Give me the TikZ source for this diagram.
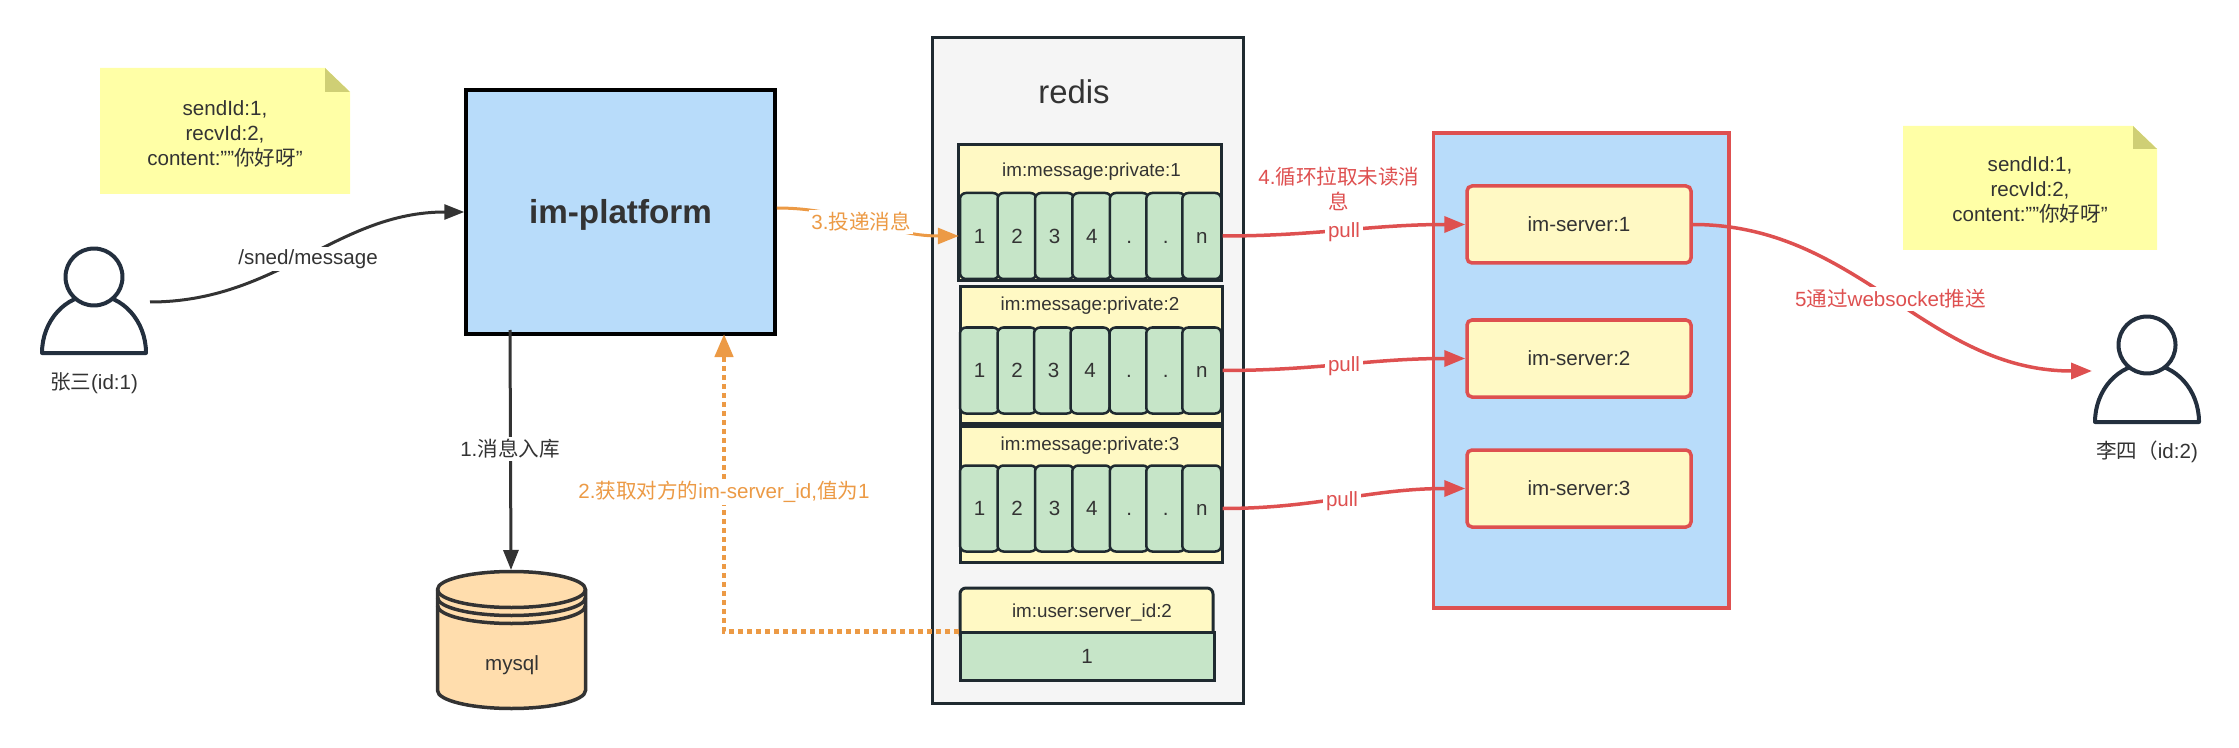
\documentclass[tikz,border=0pt]{standalone}
\usepackage{fontspec}
\setmainfont{Liberation Sans}
\newfontfamily\cjk{Noto Sans CJK SC}
\usetikzlibrary{arrows.meta}
\definecolor{inkdark}{HTML}{333333}
\definecolor{framedark}{HTML}{1F2A30}
\definecolor{personblue}{HTML}{232F3E}
\definecolor{paleblue}{HTML}{B8DCFA}
\definecolor{paleyellow}{HTML}{FFF9C4}
\definecolor{palegreen}{HTML}{C6E5C8}
\definecolor{notecolor}{HTML}{FFFFA6}
\definecolor{foldcolor}{HTML}{CFCF75}
\definecolor{dbcolor}{HTML}{FFDDAD}
\definecolor{orangeline}{HTML}{EC9A45}
\definecolor{redline}{HTML}{DE5050}
\tikzset{
  txt/.style={font=\fontsize{11.7}{14.2}\selectfont,text=inkdark,align=center,inner sep=0pt},
  keytxt/.style={txt,font=\fontsize{10.7}{14}\selectfont},
  edgetxt/.style={txt,fill=white,inner sep=1.5pt},
  cellbox/.style={txt,draw=framedark,fill=palegreen,line width=0.05cm,rounded corners=0.12cm,minimum width=0.78cm,minimum height=1.72cm,text height=0.29cm,text depth=0cm},
  rowbox/.style={draw=framedark,fill=paleyellow,line width=0.06cm,minimum width=5.25cm,minimum height=2.72cm},
  serverbox/.style={txt,draw=redline,fill=paleyellow,line width=0.07cm,rounded corners=0.1cm,minimum width=4.48cm,minimum height=1.54cm},
  notepaper/.style={fill=notecolor},
  notefold/.style={fill=foldcolor},
  personline/.style={draw=personblue,fill=white,line width=0.08cm,line join=round},
  personhead/.style={personline,circle,inner sep=0pt,minimum size=1.14cm},
  dbline/.style={draw=inkdark,line width=0.07cm},
  darkarrow/.style={draw=inkdark,line width=0.06cm,-{Triangle[length=0.4cm,width=0.3cm]}},
  orangearrow/.style={draw=orangeline,line width=0.06cm,-{Triangle[length=0.42cm,width=0.32cm]}},
  dottedarrow/.style={draw=orangeline,line width=0.09cm,dash pattern=on 0.09cm off 0.09cm,-{Triangle[length=0.46cm,width=0.36cm]}},
  redarrow/.style={draw=redline,line width=0.07cm,-{Triangle[length=0.42cm,width=0.32cm]}},
}
\begin{document}
\begin{tikzpicture}[y=-1cm]
\useasboundingbox (0,0) rectangle (44.78,14.96);
\fill[notepaper] (2.0,1.36) -- (6.5,1.36) -- (7.0,1.84) -- (7.0,3.88) -- (2.0,3.88) -- cycle;
\fill[notefold] (6.5,1.36) -- (7.0,1.84) -- (6.5,1.84) -- cycle;
\node[txt] (notea) at (4.5,2.67) {sendId:1,\\recvId:2,\\content:""{\cjk 你好呀}"};
\draw[personline] (0.84,7.06) -- (2.92,7.06) arc[start angle=0,end angle=180,x radius=1.04cm,y radius=1.16cm] -- cycle;
\node[personhead] (zhangsan) at (1.88,5.54) {};
\node[txt] (zhangsantxt) at (1.88,7.66) {{\cjk 张三}(id:1)};
\coordinate (sendstart) at (3.0,6.04);
\node[txt,draw=black,fill=paleblue,line width=0.07cm,minimum width=6.18cm,minimum height=4.88cm,font=\fontsize{18.9}{22}\selectfont\bfseries,text height=0.6cm,text depth=0.14cm] (platform) at (12.41,4.24) {im-platform};
\filldraw[dbline,fill=dbcolor] (8.75,11.79) arc[start angle=180,end angle=0,x radius=1.48cm,y radius=0.36cm] -- (11.71,13.81) arc[start angle=0,end angle=-180,x radius=1.48cm,y radius=0.36cm] -- cycle;
\draw[dbline] (8.75,11.79) arc[start angle=180,end angle=360,x radius=1.48cm,y radius=0.36cm];
\draw[dbline] (8.75,11.95) arc[start angle=180,end angle=360,x radius=1.48cm,y radius=0.36cm];
\draw[dbline] (8.75,12.11) arc[start angle=180,end angle=360,x radius=1.48cm,y radius=0.36cm];
\node[txt] (mysql) at (10.24,13.3) {mysql};
\coordinate (mysqltop) at (10.22,11.4);
\coordinate (dbstart) at (10.2,6.6);
\coordinate (idtip) at (14.48,6.68);
\node[draw=framedark,fill=black!4,line width=0.06cm,minimum width=6.22cm,minimum height=13.32cm] (redis) at (21.75,7.41) {};
\node[txt,font=\fontsize{18.7}{22}\selectfont] (redistxt) at (21.48,1.84) {redis};
\node[rowbox] (rowa) at (21.8,4.26) {};
\node[keytxt] (rowatxt) at (21.83,3.44) {im:message:private:1};
\node[cellbox] (aa) at (19.59,4.72) {1};
\node[cellbox] (ab) at (20.34,4.72) {2};
\node[cellbox] (ac) at (21.09,4.72) {3};
\node[cellbox] (ad) at (21.835,4.72) {4};
\node[cellbox] (ae) at (22.585,4.72) {.};
\node[cellbox] (af) at (23.315,4.72) {.};
\node[cellbox] (ag) at (24.035,4.72) {n};
\node[rowbox] (rowb) at (21.825,7.1) {};
\node[keytxt] (rowbtxt) at (21.8,6.11) {im:message:private:2};
\node[cellbox] (ba) at (19.59,7.41) {1};
\node[cellbox] (bb) at (20.34,7.41) {2};
\node[cellbox] (bc) at (21.07,7.41) {3};
\node[cellbox] (bd) at (21.8,7.41) {4};
\node[cellbox] (be) at (22.58,7.41) {.};
\node[cellbox] (bf) at (23.315,7.41) {.};
\node[cellbox] (bg) at (24.035,7.41) {n};
\node[rowbox] (rowc) at (21.825,9.894) {};
\node[keytxt] (rowctxt) at (21.8,8.92) {im:message:private:3};
\node[cellbox] (ca) at (19.59,10.17) {1};
\node[cellbox] (cb) at (20.34,10.17) {2};
\node[cellbox] (cc) at (21.09,10.17) {3};
\node[cellbox] (cd) at (21.835,10.17) {4};
\node[cellbox] (ce) at (22.585,10.17) {.};
\node[cellbox] (cf) at (23.315,10.17) {.};
\node[cellbox] (cg) at (24.035,10.17) {n};
\node[draw=framedark,fill=paleyellow,line width=0.06cm,rounded corners=0.12cm,minimum width=5.06cm,minimum height=1.04cm] (userkey) at (21.73,12.28) {};
\node[keytxt] (userkeytxt) at (21.84,12.26) {im:user:server\_id:2};
\node[txt,draw=framedark,fill=palegreen,line width=0.06cm,minimum width=5.08cm,minimum height=0.946cm] (userval) at (21.74,13.128) {1};
\node[draw=redline,fill=paleblue,line width=0.07cm,minimum width=5.91cm,minimum height=9.5cm] (cluster) at (31.625,7.41) {};
\node[serverbox] (servera) at (31.58,4.49) {im-server:1};
\node[serverbox] (serverb) at (31.58,7.17) {im-server:2};
\node[serverbox] (serverc) at (31.58,9.77) {im-server:3};
\fill[notepaper] (38.06,2.52) -- (42.66,2.52) -- (43.14,2.98) -- (43.14,5.0) -- (38.06,5.0) -- cycle;
\fill[notefold] (42.66,2.52) -- (43.14,2.98) -- (42.66,2.98) -- cycle;
\node[txt] (noteb) at (40.6,3.79) {sendId:1,\\recvId:2,\\content:""{\cjk 你好呀}"};
\draw[personline] (41.9,8.44) -- (43.98,8.44) arc[start angle=0,end angle=180,x radius=1.04cm,y radius=1.16cm] -- cycle;
\node[personhead] (lisi) at (42.94,6.9) {};
\node[txt] (lisitxt) at (42.94,9.04) {{\cjk 李四（}id:2)};
\coordinate (pushend) at (41.84,7.42);
\draw[darkarrow] (sendstart) to[out=0,in=180] (platform.west);
\draw[darkarrow] (dbstart) -- (mysqltop);
\draw[dottedarrow] (userval.north west) -| (idtip);
\draw[orangearrow] ([yshift=0.08cm]platform.east) to[out=0,in=180] (aa.west);
\draw[redarrow] (ag.east) to[out=0,in=180] (servera.west);
\draw[redarrow] (bg.east) to[out=0,in=180] (serverb.west);
\draw[redarrow] (cg.east) to[out=0,in=180] (serverc.west);
\draw[redarrow] (servera.east) to[out=0,in=180] (pushend);
\node[edgetxt] (sendtxt) at (6.16,5.18) {/sned/message};
\node[edgetxt] (dbtxt) at (10.2,8.98) {1.{\cjk 消息入库}};
\node[edgetxt,text=orangeline] (fetchtxt) at (14.48,9.84) {2.{\cjk 获取对方的}im-server\_id,{\cjk 值为}1};
\node[edgetxt,text=orangeline] (delivertxt) at (17.22,4.44) {3.{\cjk 投递消息}};
\node[txt,text=redline] (polltxt) at (26.78,3.78) {4.{\cjk 循环拉取未读消}\\{\cjk 息}};
\node[edgetxt,text=redline] (pulla) at (26.88,4.64) {pull};
\node[edgetxt,text=redline] (pullb) at (26.88,7.32) {pull};
\node[edgetxt,text=redline] (pullc) at (26.84,10.02) {pull};
\node[edgetxt,text=redline] (pushtxt) at (37.81,5.98) {5{\cjk 通过}websocket{\cjk 推送}};
\end{tikzpicture}
\end{document}
